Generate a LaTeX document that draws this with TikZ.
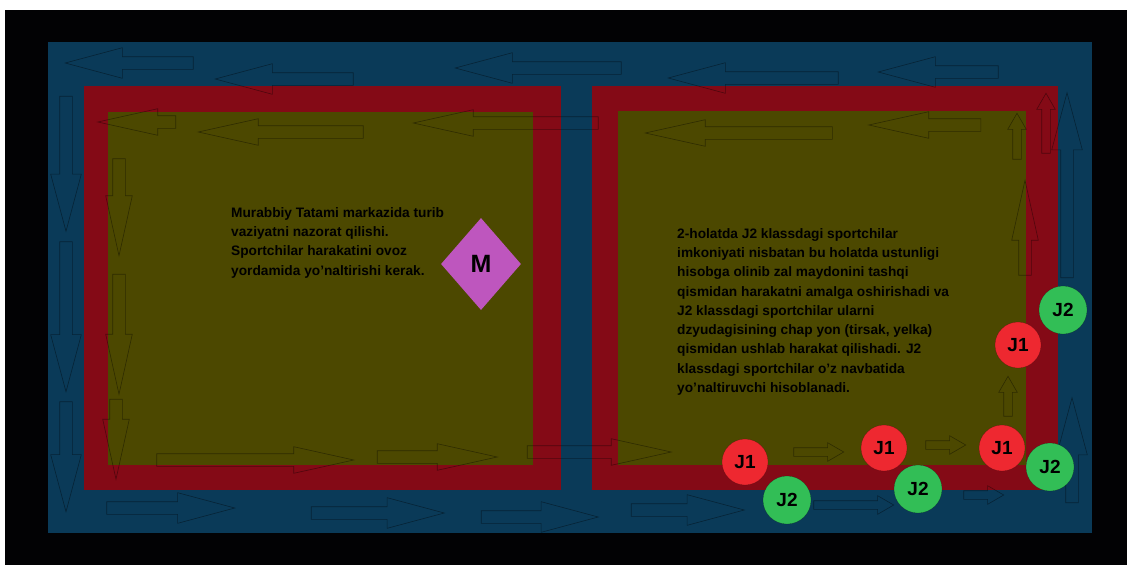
\documentclass[tikz,border=0pt]{standalone}
\usepackage{fontspec}
\setmainfont{Liberation Sans}
\usetikzlibrary{shapes.geometric, shapes.arrows}
\definecolor{hallblk}{RGB}{  2,  2,  4}
\definecolor{laneblu}{RGB}{ 10, 58, 88}
\definecolor{zonered}{RGB}{132, 10, 22}
\definecolor{matolv} {RGB}{ 76, 72,  0}
\definecolor{coachmg}{RGB}{190, 86,190}
\definecolor{jonered}{RGB}{238, 40, 48}
\definecolor{jtwogrn}{RGB}{ 50,190, 86}
\tikzset{
  % Faint outline arrow in the outer lane
  LA/.style={single arrow,draw=black,draw opacity=0.4,line width=0.6pt,
             inner xsep=0pt,inner ysep=6pt,minimum width=0pt,
             single arrow head extend=9pt,single arrow tip angle=30,
             minimum height=#1},
  % Faint outline arrow on the mat
  MA/.style={single arrow,draw=black,draw opacity=0.4,line width=0.6pt,
             inner xsep=0pt,inner ysep=6pt,minimum width=0pt,
             single arrow head extend=7pt,single arrow tip angle=25,
             minimum height=#1},
  % Short outline arrow
  SA/.style={single arrow,draw=black,draw opacity=0.4,line width=0.6pt,
             inner xsep=0pt,inner ysep=4pt,minimum width=0pt,
             single arrow head extend=5pt,single arrow tip angle=60,
             minimum height=#1},
  % Athlete discs
  JR/.style={circle,fill=jonered,draw=black,draw opacity=0.3,
             minimum size=46pt,inner sep=0pt,
             font=\fontsize{19}{19}\selectfont\bfseries},
  JG/.style={circle,fill=jtwogrn,draw=black,draw opacity=0.3,
             minimum size=48pt,inner sep=0pt,
             font=\fontsize{19}{19}\selectfont\bfseries},
  % Coach diamond
  CM/.style={diamond,fill=coachmg,inner sep=0pt,
             minimum width=80pt,minimum height=92pt,
             font=\fontsize{25}{25}\selectfont\bfseries},
  % Explanation text
  note/.style={anchor=north west,align=left,inner sep=0pt,
               font=\fontsize{13.7}{19.3}\selectfont\bfseries},
}
\begin{document}
\begin{tikzpicture}[x=1pt,y=-1pt]
  \useasboundingbox (0,0) rectangle (1127,565);
  % Hall, lane, zones
  \fill[white] (0,0) rectangle (1127,565);
  \fill[hallblk] (5,10) rectangle (1127,565);
  \fill[laneblu] (48,42) rectangle (1092,533);
  \fill[zonered] (84,86) rectangle (561,490);
  \fill[zonered] (592,86) rectangle (1058,490);
  \fill[matolv] (108,112) rectangle (533,465);
  \fill[matolv] (618,111) rectangle (1026,465);

  % Top lane arrows
  \node[LA=128,rotate=180] (t1) at (141,63) {};
  \node[LA=138,rotate=180] (t2) at (296,79) {};
  \node[LA=166,rotate=180] (t3) at (550,68) {};
  \node[LA=170,rotate=180] (t4) at (765,78) {};
  \node[LA=120,rotate=180] (t5) at (950,72) {};
  % Left lane arrows
  \node[LA=135,rotate=-90] (l1) at (66,152) {};
  \node[LA=150,rotate=-90] (l2) at (66,305) {};
  \node[LA=110,rotate=-90] (l3) at (66,445) {};
  % Right lane arrows
  \node[LA=185,rotate=90] (r1) at (1067,197) {};
  \node[LA=105,rotate=90] (r2) at (1072,462) {};
  \node[SA=60,rotate=90] (r3) at (1046,127) {};
  % Bottom lane arrows
  \node[LA=128] (b1) at (159,508) {};
  \node[LA=133] (b2) at (366,513) {};
  \node[LA=117] (b3) at (528,517) {};
  \node[LA=113] (b4) at (676,510) {};
  \node[SA=80] (b5) at (850,505) {};
  \node[SA=40] (b6) at (980,495) {};

  % Left mat arrows
  \node[MA=78,rotate=180] (m1) at (151,122) {};
  \node[MA=165,rotate=180] (m2) at (295,132) {};
  \node[MA=185,rotate=180] (m3) at (520,123) {};
  \node[MA=97,rotate=-90] (m4) at (119,193) {};
  \node[MA=120,rotate=-90] (m5) at (119,320) {};
  \node[MA=80,rotate=-90] (m6) at (116,425) {};
  \node[MA=197] (m7) at (241,460) {};
  \node[MA=120] (m8) at (423,457) {};
  \node[MA=144] (m9) at (585,452) {};
  % Right mat arrows
  \node[MA=187,rotate=180] (n1) at (753,133) {};
  \node[MA=112,rotate=180] (n2) at (939,125) {};
  \node[SA=46,rotate=90] (n3) at (1017,140) {};
  \node[MA=95,rotate=90] (n4) at (1025,242) {};
  \node[SA=40,rotate=90] (n5) at (1008,400) {};
  \node[SA=50] (n6) at (815,452) {};
  \node[SA=40] (n7) at (942,445) {};

  % Coach and notes
  \node[CM] (coach) at (481,264) {M};
  \node[note] (lnote) at (231,207)
    {Murabbiy Tatami markazida turib\\
     vaziyatni nazorat qilishi.\\
     Sportchilar harakatini ovoz\\
     yordamida yo'naltirishi kerak.};
  \node[note] (rnote) at (677,228)
    {2-holatda J2 klassdagi sportchilar\\
     imkoniyati nisbatan bu holatda ustunligi\\
     hisobga olinib zal maydonini tashqi\\
     qismidan harakatni amalga oshirishadi va\\
     J2 klassdagi sportchilar ularni\\
     dzyudagisining chap yon (tirsak, yelka)\\
     qismidan ushlab harakat qilishadi. J2\\
     klassdagi sportchilar o'z navbatida\\
     yo'naltiruvchi hisoblanadi.};

  % Athlete pairs
  \node[JR] (ja1) at (745,462) {J1};
  \node[JG] (jb1) at (787,500) {J2};
  \node[JR] (ja2) at (884,448) {J1};
  \node[JG] (jb2) at (918,489) {J2};
  \node[JR] (ja3) at (1002,448) {J1};
  \node[JG] (jb3) at (1050,467) {J2};
  \node[JG] (jb4) at (1063,310) {J2};
  \node[JR] (ja4) at (1018,345) {J1};
\end{tikzpicture}
\end{document}
